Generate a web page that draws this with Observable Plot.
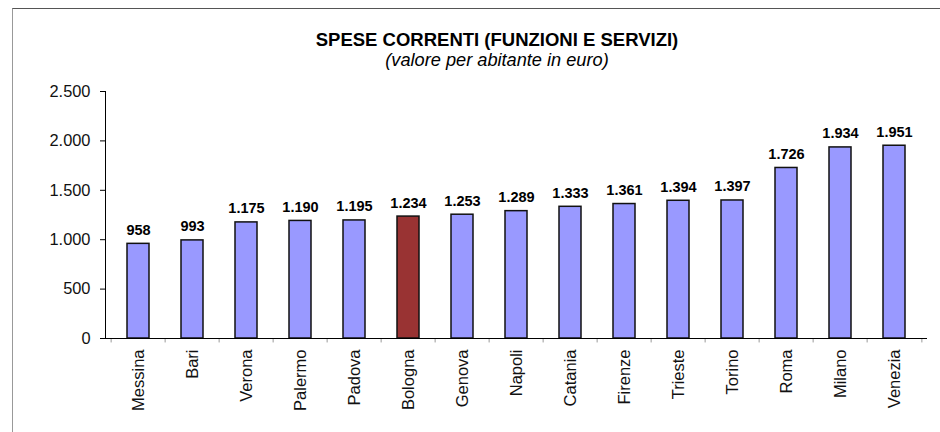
<!DOCTYPE html>
<html>
<head>
<meta charset="utf-8">
<script src="https://cdn.jsdelivr.net/npm/d3@7"></script>
<script src="https://cdn.jsdelivr.net/npm/@observablehq/plot@0.6"></script>
<style>
  html, body { margin: 0; padding: 0; background: #fff; }
  #wrap { position: relative; width: 940px; height: 432px; overflow: hidden; }
  #border { position: absolute; left: 12px; top: 8px; right: -2px; bottom: -2px;
            border-top: 1.5px solid #555; border-left: 1px solid #999; pointer-events: none; }
</style>
</head>
<body>
<div id="wrap"><div id="border"></div></div>
<script>
const cities = ["Messina","Bari","Verona","Palermo","Padova","Bologna","Genova","Napoli","Catania","Firenze","Trieste","Torino","Roma","Milano","Venezia"];
const values = [958,993,1175,1190,1195,1234,1253,1289,1333,1361,1394,1397,1726,1934,1951];
const highlight = "Bologna";
const yTicks = [0,500,1000,1500,2000,2500];
const titleText = "SPESE CORRENTI (FUNZIONI E SERVIZI)";
const subtitleText = "(valore per abitante in euro)";

const data = cities.map((c, i) => ({city: c, value: values[i]}));
const it = d3.formatLocale({decimal: ",", thousands: ".", grouping: [3], currency: ["", " €"]});
const fmt = it.format(",d");
const font = "'Liberation Sans', Arial, sans-serif";

const W = 940, H = 432, mL = 105, mR = 14, mT = 91, mB = 94;
const step = (W - mL - mR) / cities.length;

const chart = Plot.plot({
  width: W, height: H,
  marginLeft: mL, marginRight: mR, marginTop: mT, marginBottom: mB,
  style: {fontFamily: font, background: "transparent", overflow: "visible"},
  x: {domain: cities, paddingInner: 0.6, paddingOuter: 0.3, axis: null},
  y: {domain: [0, 2500], axis: null},
  marks: [
    Plot.barY(data, {x: "city", y: "value",
      fill: d => d.city === highlight ? "#993333" : "#9999ff",
      stroke: "#111", strokeWidth: 1.5}),
    Plot.text(data, {x: "city", y: "value", text: d => fmt(d.value),
      lineAnchor: "bottom", dy: -9, fontWeight: "bold", fontSize: 14.5, fill: "#000"}),
    Plot.ruleX(cities, {x: d => d, y1: 0, y2: -45, dx: -step / 2, stroke: "#999"}),
    Plot.ruleX(cities.slice(-1), {x: d => d, y1: 0, y2: -45, dx: step / 2, stroke: "#999"}),
    Plot.frame({anchor: "left", stroke: "#000"}),
    Plot.frame({anchor: "bottom", stroke: "#000"}),
    Plot.axisY({ticks: yTicks, tickFormat: fmt, tickSize: 5, tickPadding: 10,
      fontSize: 16.4, stroke: "#000", fill: "#111", label: null}),
    Plot.text(cities, {x: d => d, y: 0, text: d => d, rotate: -90,
      textAnchor: "end", lineAnchor: "middle", dy: 11, fontSize: 16.5, fill: "#111"}),
    Plot.text([titleText], {frameAnchor: "top", text: d => d, lineAnchor: "bottom",
      dx: -19, dy: -46, fontWeight: "bold", fontSize: 18.5, fill: "#000"}),
    Plot.text([subtitleText], {frameAnchor: "top", text: d => d, lineAnchor: "bottom",
      dx: -19, dy: -25.5, fontStyle: "italic", fontSize: 18.2, fill: "#000"})
  ]
});
document.getElementById("wrap").prepend(chart);
</script>
</body>
</html>
